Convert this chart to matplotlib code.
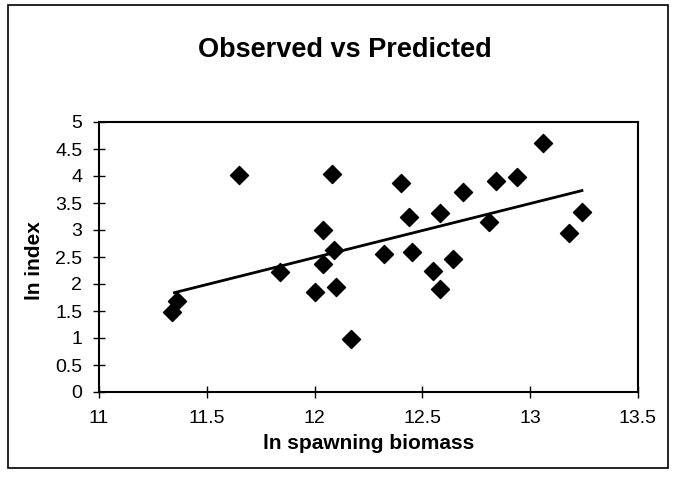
import numpy as np
import matplotlib
matplotlib.use("Agg")
import matplotlib.pyplot as plt
from matplotlib.patches import Rectangle

plt.rcParams['font.family'] = ['Liberation Sans', 'DejaVu Sans']

# ln spawning biomass vs ln index
ln_biomass = [11.34, 11.36, 11.65, 11.84, 12.00, 12.04, 12.04, 12.08, 12.09, 12.10,
              12.17, 12.32, 12.40, 12.44, 12.45, 12.55, 12.58, 12.58, 12.64, 12.69,
              12.81, 12.84, 12.94, 13.06, 13.18, 13.24]
ln_index = [1.49, 1.69, 4.01, 2.23, 1.85, 2.37, 3.00, 4.04, 2.63, 1.95,
            0.99, 2.56, 3.87, 3.25, 2.60, 2.24, 3.31, 1.90, 2.46, 3.71,
            3.15, 3.90, 3.99, 4.61, 2.94, 3.34]

# predicted line (end points)
pred_x = [11.35, 13.24]
pred_y = [1.84, 3.73]

x_ticks = [11, 11.5, 12, 12.5, 13, 13.5]
y_ticks = [0, 0.5, 1, 1.5, 2, 2.5, 3, 3.5, 4, 4.5, 5]

fig = plt.figure(figsize=(6.75, 4.8), dpi=100)
ax = fig.add_axes([99 / 675, 1 - 392 / 480, (638 - 99) / 675, (392 - 122) / 480])

ax.plot(pred_x, pred_y, color='black', lw=2, zorder=2)
ax.scatter(ln_biomass, ln_index, marker='D', s=85, color='black', zorder=3)

ax.set_xlim(11, 13.5)
ax.set_ylim(0, 5)
ax.set_xticks(x_ticks)
ax.set_xticklabels(['11', '11.5', '12', '12.5', '13', '13.5'])
ax.set_yticks(y_ticks)
ax.set_yticklabels(['0', '0.5', '1', '1.5', '2', '2.5', '3', '3.5', '4', '4.5', '5'])
ax.tick_params(direction='inout', length=8, width=1, labelsize=14)
ax.tick_params(axis='x', pad=9)
ax.tick_params(axis='y', pad=8)
for s in ax.spines.values():
    s.set_linewidth(1.5)

fig.text(368.5 / 675, 1 - 449 / 480, 'ln spawning biomass', fontsize=15,
         fontweight='bold', ha='center', va='baseline')
fig.text(35 / 675, 1 - 261 / 480, 'ln index', fontsize=15, fontweight='bold',
         rotation=90, ha='center', va='center')
fig.text(345 / 675, 1 - 57 / 480, 'Observed vs Predicted', fontsize=19.5,
         fontweight='bold', ha='center', va='baseline')

fig.patches.append(Rectangle((8 / 675, 1 - 468 / 480), 660 / 675, 463 / 480,
                             transform=fig.transFigure, fill=False,
                             edgecolor='black', lw=1.2))

fig.savefig('out.png', dpi=100)
